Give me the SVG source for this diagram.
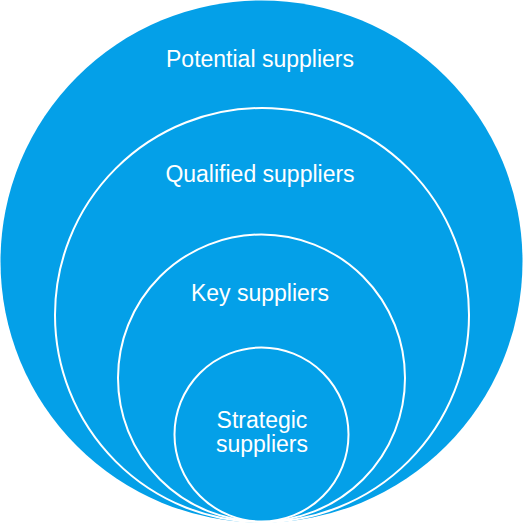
<svg xmlns="http://www.w3.org/2000/svg" width="523" height="523" viewBox="0 0 523 523">
<style>
.c{fill:#04A0E8;stroke:#ffffff;stroke-width:2}
.t{font-family:"Liberation Sans",Arial,sans-serif;font-size:23px;fill:#ffffff;text-anchor:middle}
</style>
<rect width="523" height="523" fill="#ffffff"/>
<g id="potential"><circle cx="261.5" cy="261.5" r="261" fill="#04A0E8"/><text class="t" x="260" y="67">Potential suppliers</text></g>
<g id="qualified"><circle class="c" cx="262" cy="315" r="207"/><text class="t" x="260" y="181.5">Qualified suppliers</text></g>
<g id="key"><circle class="c" cx="261.5" cy="378" r="143.5"/><text class="t" x="260" y="301">Key suppliers</text></g>
<g id="strategic"><circle class="c" cx="261.5" cy="434.5" r="87"/><text class="t" x="262" y="428">Strategic</text><text class="t" x="262" y="451.5">suppliers</text></g>
<g id="connectors"/>
</svg>
